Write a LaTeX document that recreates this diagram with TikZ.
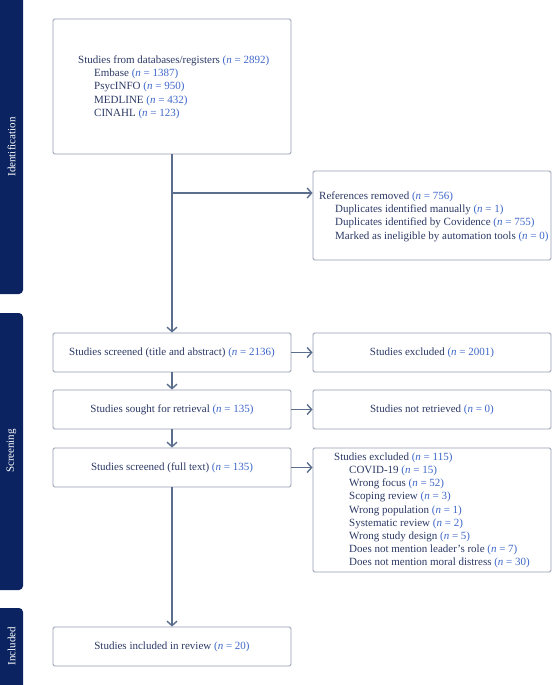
\documentclass[tikz,border=0pt]{standalone}
\usepackage{fontspec}
\setmainfont{Liberation Serif}
\usetikzlibrary{arrows.meta,positioning}
\definecolor{navy}{RGB}{11,35,96}
\definecolor{txtc}{RGB}{43,56,100}
\definecolor{nblue}{RGB}{62,102,200}
\definecolor{linec}{RGB}{92,110,142}
\definecolor{boxc}{RGB}{146,155,174}
\newcommand{\nn}[1]{\textcolor{nblue}{(\textit{n} = #1)}}
\tikzset{
  box/.style={draw=boxc, line width=0.9pt, rounded corners=1.5pt, inner sep=0pt},
  txt/.style={text=txtc, font=\fontsize{11}{13.2}\selectfont, inner sep=0pt, align=left},
  ctxt/.style={text=txtc, font=\fontsize{11}{13.2}\selectfont},
  arr/.style={draw=linec, line width=1.5pt, -{Straight Barb[length=4.5pt,width=10pt,line width=1.4pt]}},
  side/.style={fill=navy, rounded corners=4pt},
  sidetxt/.style={text=white, rotate=90, font=\fontsize{11}{12}\selectfont}
}
\begin{document}
\begin{tikzpicture}[x=1pt,y=-1pt]
\useasboundingbox (0,0) rectangle (552,685);
\clip (0,0) rectangle (552,685);
% side bars
\fill[side] (-6,-6) rectangle (23,294);
\fill[side] (-6,313) rectangle (23,590);
\fill[side] (-6,608) rectangle (23,692);
\node[sidetxt] (sid) at (11.5,147) {Identification};
\node[sidetxt] (sscr) at (11.5,451) {Screening};
\node[sidetxt] (sinc) at (11.5,646) {Included};
% boxes
\node[box, minimum width=238pt, minimum height=135pt] (db) at (172,86.5) {};
\node[txt, anchor=north west] (dbt) at (78,55.5) {Studies from databases/registers \nn{2892}\\
\hspace*{16pt}Embase \nn{1387}\\
\hspace*{16pt}PsycINFO \nn{950}\\
\hspace*{16pt}MEDLINE \nn{432}\\
\hspace*{16pt}CINAHL \nn{123}};
\node[box, minimum width=238pt, minimum height=89pt] (refs) at (432,215.5) {};
\node[txt, anchor=north west] (refst) at (319,191.5) {References removed \nn{756}\\
\hspace*{16pt}Duplicates identified manually \nn{1}\\
\hspace*{16pt}Duplicates identified by Covidence \nn{755}\\
\hspace*{16pt}Marked as ineligible by automation tools \nn{0}};
\node[box, minimum width=238pt, minimum height=39pt, ctxt] (scr) at (172,352.5) {Studies screened (title and abstract) \nn{2136}};
\node[box, minimum width=238pt, minimum height=39pt, ctxt] (exc1) at (432,352.5) {Studies excluded \nn{2001}};
\node[box, minimum width=238pt, minimum height=39pt, ctxt] (sought) at (172,409.5) {Studies sought for retrieval \nn{135}};
\node[box, minimum width=238pt, minimum height=39pt, ctxt] (notret) at (432,409.5) {Studies not retrieved \nn{0}};
\node[box, minimum width=238pt, minimum height=39pt, ctxt] (full) at (172,467.5) {Studies screened (full text) \nn{135}};
\node[box, minimum width=238pt, minimum height=124pt] (exc2) at (432,510) {};
\node[txt, anchor=north west] (exc2t) at (334,452.5) {Studies excluded \nn{115}\\
\hspace*{15pt}COVID-19 \nn{15}\\
\hspace*{15pt}Wrong focus \nn{52}\\
\hspace*{15pt}Scoping review \nn{3}\\
\hspace*{15pt}Wrong population \nn{1}\\
\hspace*{15pt}Systematic review \nn{2}\\
\hspace*{15pt}Wrong study design \nn{5}\\
\hspace*{15pt}Does not mention leader’s role \nn{7}\\
\hspace*{15pt}Does not mention moral distress \nn{30}};
\node[box, minimum width=238pt, minimum height=39pt, ctxt] (inc) at (172,646.5) {Studies included in review \nn{20}};
% connectors
\coordinate (br) at (172,193);
\draw[arr] (db.south) -- (scr.north);
\draw[arr] (br) -- (br -| refs.west);
\draw[arr] (scr.south) -- (sought.north);
\draw[arr] (sought.south) -- (full.north);
\draw[arr] (full.south) -- (inc.north);
\draw[arr] (scr.east) -- (exc1.west);
\draw[arr] (sought.east) -- (notret.west);
\draw[arr] (full.east) -- (full.east -| exc2.west);
\end{tikzpicture}
\end{document}
